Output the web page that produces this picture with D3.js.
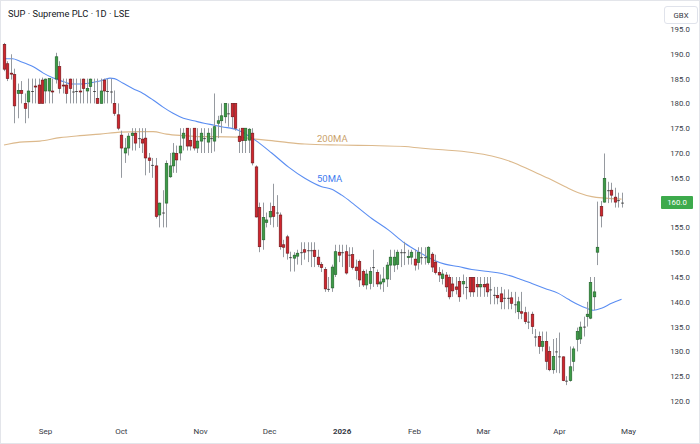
<!DOCTYPE html>
<html>
<head>
<meta charset="utf-8">
<script src="https://cdn.jsdelivr.net/npm/d3@7"></script>
<style>
  html, body { margin: 0; padding: 0; background: #ffffff; }
  svg { display: block; }
  text { font-family: Roboto, "Noto Sans", sans-serif; }
</style>
</head>
<body>
<svg id="chart" width="700" height="444"></svg>
<script>
// ---------------- DATA ----------------
const title = "SUP \u00b7 Supreme PLC \u00b7 1D \u00b7 LSE";
const currency = "GBX";
const firstDay = "2025-08-13";
const holidays = ["2025-08-25","2025-12-25","2025-12-26","2026-01-01","2026-04-03","2026-04-06","2026-05-04"];

const open = [191.9,188.0,186.1,185.8,182.0,182.6,180.0,180.3,182.5,183.5,
 183.7,184.7,182.5,182.5,182.5,184.9,187.4,183.7,183.7,184.9,
 182.4,182.5,182.5,184.9,182.5,183.4,182.5,181.0,180.0,184.7,
 182.5,182.4,180.0,177.7,173.6,170.0,171.0,173.5,174.0,173.0,
 172.8,173.0,169.0,167.6,167.4,157.5,158.0,159.9,165.2,167.4,
 169.9,170.0,173.0,175.0,172.5,175.0,171.0,172.4,173.0,172.2,
 173.0,172.4,176.0,176.5,177.3,178.0,180.0,180.0,173.4,175.0,
 172.5,172.6,174.0,167.2,159.0,152.5,156.0,157.1,159.2,158.0,
 157.5,151.5,153.1,149.0,148.8,149.2,150.0,150.5,150.4,150.4,
 150.4,149.0,147.5,146.5,142.6,142.8,145.5,150.0,150.0,150.1,
 149.5,149.5,147.0,148.1,146.1,143.4,143.7,147.0,145.9,143.6,
 144.0,144.6,147.4,147.4,147.5,150.0,150.0,149.0,149.0,148.6,
 147.9,149.0,149.0,147.9,149.6,148.0,145.9,144.7,145.4,144.9,
 143.6,143.0,144.1,143.6,143.0,144.9,144.9,143.5,143.0,143.5,
 143.6,142.5,141.4,141.3,141.6,140.8,140.8,140.8,139.5,138.0,
 138.0,137.8,136.0,137.5,133.0,133.0,131.0,132.0,130.0,126.3,
 130.0,129.0,128.9,124.1,124.1,128.0,132.4,132.5,135.0,137.0,
 136.7,141.0,150.0,159.2,160.1,162.5,162.5,161.1,160.5,160.0];
const high = [192.2,188.5,189.9,187.0,184.0,184.5,182.0,185.0,185.0,185.0,
 185.0,185.2,185.0,185.0,185.0,190.2,188.5,185.0,185.0,185.0,
 185.0,185.0,185.0,185.0,185.0,185.0,185.0,185.0,185.0,185.0,
 185.0,185.0,182.6,180.0,174.5,173.0,174.0,175.0,175.0,175.0,
 175.0,175.0,170.0,169.0,169.0,160.0,162.5,168.5,170.0,172.0,
 171.5,175.0,175.0,175.0,175.0,175.0,175.0,175.0,175.0,175.0,
 175.0,182.0,177.5,180.0,180.0,180.0,180.0,180.0,175.0,175.0,
 175.0,175.0,175.0,167.5,160.0,160.0,158.0,160.0,163.8,161.5,
 158.0,152.5,153.5,150.1,150.0,150.5,152.0,152.0,152.0,152.0,
 152.0,150.5,148.0,147.0,145.0,147.5,151.5,151.5,151.5,151.5,
 151.0,151.0,148.5,148.5,146.5,146.5,147.0,150.5,146.5,145.5,
 147.0,148.0,150.5,150.5,150.5,150.6,152.1,150.5,150.5,150.5,
 151.0,151.0,151.0,151.2,150.0,149.5,147.0,146.5,146.0,145.5,
 145.0,145.0,145.0,145.5,145.0,145.0,145.0,145.0,145.0,145.0,
 145.0,145.0,143.0,143.0,143.0,142.5,142.5,142.0,142.0,141.0,
 142.0,139.0,138.0,138.0,134.5,134.0,134.0,134.0,131.0,132.5,
 132.7,133.8,129.0,125.0,131.0,131.0,134.8,136.0,137.0,140.0,
 145.0,145.0,160.2,160.3,169.9,164.2,164.0,163.0,162.0,162.0];
const low = [186.5,184.5,184.8,176.0,177.0,180.0,176.0,177.0,180.0,180.0,
 180.0,180.0,180.0,180.0,180.0,184.0,182.0,182.0,180.0,180.0,
 180.0,180.0,180.0,180.0,180.0,180.0,180.0,180.0,180.0,180.0,
 180.0,180.0,177.5,174.6,165.0,168.0,169.5,170.5,170.5,171.0,
 170.0,165.5,166.0,165.0,156.8,155.0,155.0,155.0,165.0,166.0,
 166.0,168.5,170.5,170.5,170.5,170.5,170.0,170.0,170.0,170.0,
 170.0,170.3,173.0,174.0,176.0,175.3,175.0,174.5,170.0,170.0,
 170.0,170.0,167.5,157.0,150.0,150.5,155.0,155.5,155.0,155.1,
 150.5,149.0,148.5,146.1,146.1,147.5,147.4,148.5,148.0,147.0,
 147.0,147.0,146.0,142.0,142.0,142.0,145.0,148.0,147.0,145.5,
 147.0,146.5,144.5,143.0,143.0,142.5,142.5,143.0,143.0,142.5,
 142.0,143.0,144.4,146.0,146.5,147.0,147.4,147.5,147.5,146.3,
 146.5,147.5,147.5,147.5,146.0,145.5,144.0,143.5,142.0,140.5,
 141.0,141.5,140.0,141.5,140.5,141.0,141.0,141.0,141.0,141.0,
 141.0,139.5,139.5,139.5,138.5,138.5,138.5,138.5,137.7,136.5,
 136.5,135.5,134.5,133.5,131.0,129.5,130.0,126.3,126.0,125.5,
 125.7,125.6,124.0,123.2,123.9,126.0,130.0,131.5,133.0,135.0,
 136.5,138.3,147.4,155.0,160.0,159.9,160.0,159.0,159.0,159.0];
const close = [186.9,185.0,186.0,179.5,182.6,182.0,179.0,182.5,182.5,183.4,
 180.0,180.0,184.9,185.0,182.4,189.4,183.0,183.6,182.0,183.0,
 182.4,182.5,182.4,183.0,183.0,184.9,182.5,180.0,182.5,182.5,
 182.5,182.4,178.0,175.0,171.0,171.0,173.4,174.0,172.0,173.0,
 172.0,169.0,168.5,167.6,157.2,159.9,158.0,167.9,167.4,170.0,
 168.6,171.4,174.0,171.4,171.4,171.0,172.4,174.0,173.0,174.0,
 173.0,175.3,176.5,177.5,180.0,178.0,177.3,175.0,172.3,172.5,
 175.0,174.8,168.0,157.1,151.1,157.0,156.5,158.2,157.2,158.0,
 151.1,151.0,149.8,149.0,149.4,149.8,150.0,150.0,150.4,150.4,
 149.1,147.5,146.9,142.6,142.6,147.0,150.1,149.4,150.0,145.8,
 149.5,146.9,146.3,144.4,143.4,145.6,146.1,147.0,143.6,144.0,
 144.6,147.4,149.0,149.0,150.0,150.0,150.0,149.1,150.0,147.4,
 149.9,149.0,149.0,151.0,147.0,145.9,145.4,145.6,143.0,141.0,
 142.2,142.5,141.0,144.1,143.0,142.0,142.0,143.0,143.5,143.0,
 142.0,142.5,141.4,140.8,140.0,140.8,140.8,139.7,139.5,140.0,
 137.7,136.0,136.0,135.0,133.0,131.0,132.0,128.0,126.3,129.0,
 130.0,129.0,124.1,124.1,126.9,130.5,134.0,134.9,135.0,137.5,
 143.9,142.0,151.0,157.3,164.9,162.5,161.5,160.1,160.5,160.0];

// moving averages: [bar index, value]
const ma50 = [[0,189.0],[2.5,189.0],[4.6,188.5],[8.5,187.4],[11.4,186.1],[14.3,185.1],
 [17.2,184.4],[19.5,183.9],[22,183.9],[24.9,184.1],[27.8,184.5],[30.7,185.1],[32,185.0],
 [34.4,184.1],[37.3,183.0],[40.3,182.0],[43.2,180.7],[46,179.3],[49,178.0],[52,177.0],
 [55,176.5],[58,176.0],[61,175.6],[63.1,175.3],[67.9,174.6],[72.8,172.6],[77.6,170.0],
 [82.4,167.2],[87.2,164.9],[92.1,163.2],[95,162.7],[97.9,161.5],[101.7,159.5],
 [106.6,156.8],[111.4,154.5],[116.2,151.8],[120.1,150.1],[124,148.6],[127.8,147.6],
 [131.7,147.1],[135.6,146.5],[140.4,146.1],[144.3,145.7],[149.1,144.7],[153,143.7],
 [156.8,142.7],[160.7,141.7],[163.6,140.5],[166.5,139.4],[168.9,138.7],[170.8,138.3],
 [173.2,138.7],[176.1,139.7],[179,140.5]];
const ma200 = [[0,171.6],[4.6,172.2],[10.4,172.4],[16.2,173.1],[22,173.5],[27.8,173.8],
 [33.6,174.2],[39.4,174.3],[43.2,174.3],[47.1,173.8],[51.9,173.5],[56.8,173.3],
 [60.7,173.3],[68,173.2],[72.8,172.8],[77.6,172.5],[82.4,172.1],[87.2,171.8],
 [96.9,171.6],[106.6,171.5],[116.2,171.3],[120.6,171.0],[125.9,170.7],[135.6,170.1],
 [141.4,169.4],[147.2,168.2],[153,166.4],[157.8,164.9],[162.7,163.2],[166.5,162.0],
 [170.4,161.2],[174.3,160.9],[179,160.7]];

const priceTicks = [120,125,130,135,140,145,150,155,160,165,170,175,180,185,190,195];
const monthLabels = ["Sep","Oct","Nov","Dec","2026","Feb","Mar","Apr","May"];
const monthDates = ["2025-09-01","2025-10-01","2025-11-03","2025-12-01","2026-01-02","2026-02-02","2026-03-02","2026-04-01","2026-05-01"];
const lastPrice = 160.0;

// ---------------- BUILD ----------------
const W = 700, H = 444;
const plotRight = 655;
const svg = d3.select("#chart");

// trading calendar (weekdays minus LSE holidays)
const fmt = d3.timeFormat("%Y-%m-%d");
const hol = new Set(holidays);
const days = [];
let d = d3.timeParse("%Y-%m-%d")(firstDay);
while (days.length < 200) {
  const wd = d.getDay();
  if (wd !== 0 && wd !== 6 && !hol.has(fmt(d))) days.push(fmt(d));
  d = d3.timeDay.offset(d, 1);
}
const dayIndex = new Map(days.map((s, i) => [s, i]));

const data = close.map((c, i) => ({ i, date: days[i], o: open[i], h: high[i], l: low[i], c }));

const x = d3.scaleLinear().domain([-1.16, 188.7]).range([0, plotRight]);
const y = d3.scaleLinear().domain([120, 195]).range([401, 29]);

// frame
svg.append("rect").attr("x", 0.5).attr("y", 0.5).attr("width", W - 1).attr("height", H - 1)
  .attr("fill", "#ffffff").attr("stroke", "#e3e5ea");

svg.append("defs").append("clipPath").attr("id", "plotclip")
  .append("rect").attr("x", 1).attr("y", 1).attr("width", plotRight - 1).attr("height", 415);

const plot = svg.append("g").attr("clip-path", "url(#plotclip)");

// moving averages
const line = d3.line().x(p => x(p[0])).y(p => y(p[1])).curve(d3.curveMonotoneX);
plot.append("path").datum(ma200).attr("d", line).attr("fill", "none")
  .attr("stroke", "#dcb98c").attr("stroke-width", 1.1);
plot.append("path").datum(ma50).attr("d", line).attr("fill", "none")
  .attr("stroke", "#5b8ef2").attr("stroke-width", 1.1);

// candles
const bw = 2.6;
const cg = plot.selectAll("g.c").data(data).join("g").attr("class", "c");
cg.append("line")
  .attr("x1", p => Math.round(x(p.i)) + 0.5).attr("x2", p => Math.round(x(p.i)) + 0.5)
  .attr("y1", p => y(p.h)).attr("y2", p => y(p.l))
  .attr("stroke", "#969aa0").attr("stroke-width", 1);
cg.append("rect")
  .attr("x", p => Math.round(x(p.i)) + 0.5 - bw / 2)
  .attr("y", p => y(Math.max(p.o, p.c)))
  .attr("width", bw)
  .attr("height", p => Math.max(1, Math.abs(y(p.o) - y(p.c))))
  .attr("fill", p => p.c > p.o ? "#3d9b47" : (p.c < p.o ? "#d0262e" : "#444"))
  .attr("stroke", p => p.c > p.o ? "#1f5e27" : (p.c < p.o ? "#6d1216" : "#444"))
  .attr("stroke-width", p => p.c === p.o ? 0 : 0.6);

// MA labels
svg.append("text").attr("x", 317).attr("y", 141.5).text("200MA")
  .attr("font-size", 9.5).attr("fill", "#caa26c");
svg.append("text").attr("x", 317).attr("y", 181.5).text("50MA")
  .attr("font-size", 9.5).attr("fill", "#3f7cf0");

// title
svg.append("text").attr("x", 8).attr("y", 17).text(title)
  .attr("font-size", 9.3).attr("fill", "#131722");

// price axis (the last-price badge replaces the tick label it covers)
const yAxis = d3.axisRight(y)
  .tickValues(priceTicks.filter(v => Math.abs(y(v) - y(lastPrice)) > 8))
  .tickSize(0).tickPadding(0)
  .tickFormat(d3.format(".1f"));
const ya = svg.append("g").attr("transform", "translate(680,0)").call(yAxis);
ya.select(".domain").remove();
ya.selectAll("text").attr("text-anchor", "middle").attr("font-size", 7.8)
  .attr("fill", "#363a45").attr("font-family", "Roboto, sans-serif");

// currency box
svg.append("rect").attr("x", 664.5).attr("y", 6.5).attr("width", 33).attr("height", 17).attr("rx", 2.5)
  .attr("fill", "#fff").attr("stroke", "#e0e3eb");
svg.append("text").attr("x", 681).attr("y", 17.8).attr("text-anchor", "middle")
  .text(currency).attr("font-size", 7.8).attr("fill", "#363a45");

// last price badge
svg.append("rect").attr("x", 661).attr("y", y(lastPrice) - 6.5).attr("width", 32).attr("height", 13)
  .attr("rx", 1).attr("fill", "#3daa4c");
svg.append("text").attr("x", 677).attr("y", y(lastPrice) + 2.8).attr("text-anchor", "middle")
  .text(d3.format(".1f")(lastPrice)).attr("font-size", 7.8).attr("fill", "#ffffff");

// time axis
const months = monthLabels.map((lab, k) => ({ lab, i: dayIndex.get(monthDates[k]) }));
svg.append("g").selectAll("text").data(months).join("text")
  .attr("x", m => x(m.i)).attr("y", 434).attr("text-anchor", "middle")
  .attr("font-size", 8).attr("fill", "#363a45")
  .attr("font-weight", m => /^\d+$/.test(m.lab) ? "bold" : "normal")
  .text(m => m.lab);
</script>
</body>
</html>
